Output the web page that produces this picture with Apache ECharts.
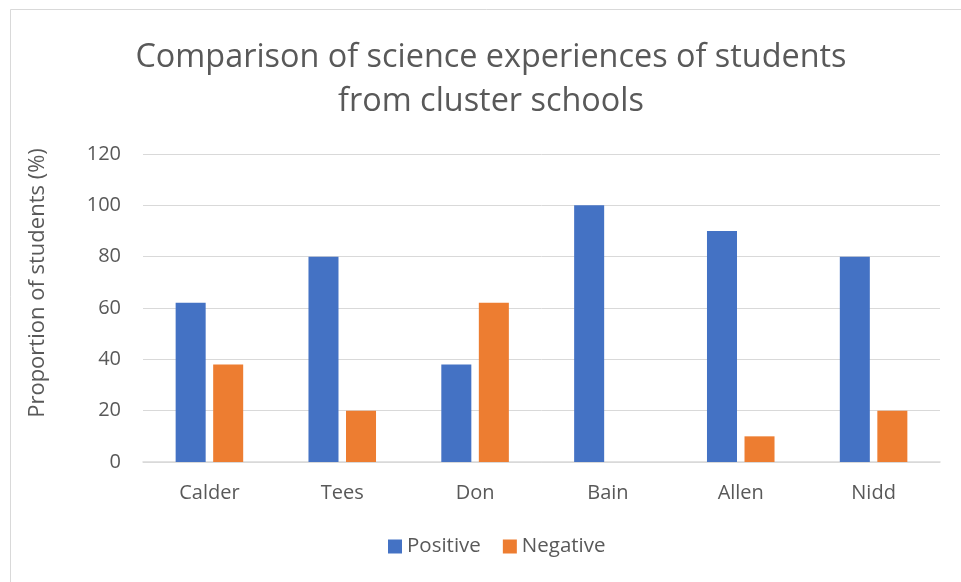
<!DOCTYPE html>
<html>
<head>
<meta charset="utf-8">
<script src="https://cdn.jsdelivr.net/npm/echarts@6/dist/echarts.min.js"></script>
<style>
  html, body { margin: 0; padding: 0; background: #fff; }
  #chart { width: 961px; height: 582px; }
</style>
</head>
<body>
<div id="chart"></div>
<script>
// 学校名称
var schools = ['Calder', 'Tees', 'Don', 'Bain', 'Allen', 'Nidd'];
// 正面 / 负面 体验比例 (%)
var positive = [62, 80, 38, 100, 90, 80];
var negative = [38, 20, 62, 0, 10, 20];
var yTicks = [0, 20, 40, 60, 80, 100, 120];

var font = '"Open Sans", "Noto Sans", sans-serif';
var grey = '#595959';

var chart = echarts.init(document.getElementById('chart'));
var option = {
    backgroundColor: '#fff',
    animation: false,
    graphic: [
        {
            type: 'rect',
            shape: {x: 10.5, y: 9.5, width: 980, height: 600},
            style: {fill: 'none', stroke: '#d9d9d9', lineWidth: 1}
        }
    ],
    title: {
        text: 'Comparison of science experiences of students\nfrom cluster schools',
        left: 486,
        top: 31,
        textAlign: 'center',
        textStyle: {
            fontFamily: font,
            fontSize: 32.4,
            fontWeight: 'normal',
            color: grey,
            lineHeight: 44
        }
    },
    legend: {
        data: ['Positive', 'Negative'],
        bottom: 20,
        left: 383,
        itemWidth: 14,
        itemHeight: 14,
        itemGap: 22,
        icon: 'rect',
        textStyle: {fontFamily: font, fontSize: 20.5, color: grey}
    },
    grid: {
        left: 143,
        right: 21,
        top: 154,
        bottom: 120
    },
    xAxis: {
        type: 'category',
        data: schools,
        axisLine: {lineStyle: {color: '#d9d9d9', width: 1.5}},
        axisTick: {show: false},
        axisLabel: {fontFamily: font, fontSize: 20, color: grey, margin: 21}
    },
    yAxis: {
        type: 'value',
        min: yTicks[0],
        max: yTicks[yTicks.length - 1],
        interval: 20,
        name: 'Proportion of students (%)',
        nameLocation: 'middle',
        nameGap: 94,
        nameTextStyle: {fontFamily: font, fontSize: 22, color: grey, padding: [0, 0, 0, 50]},
        axisLine: {show: false},
        axisTick: {show: false},
        axisLabel: {fontFamily: font, fontSize: 20, color: grey, margin: 22},
        splitLine: {lineStyle: {color: '#d9d9d9', width: 1}}
    },
    series: [
        {
            name: 'Positive',
            type: 'bar',
            data: positive,
            barWidth: '22.6%',
            barGap: '25%',
            itemStyle: {color: '#4472c4'}
        },
        {
            name: 'Negative',
            type: 'bar',
            data: negative,
            barWidth: '22.6%',
            itemStyle: {color: '#ed7d31'}
        }
    ]
};
chart.setOption(option);
</script>
</body>
</html>
